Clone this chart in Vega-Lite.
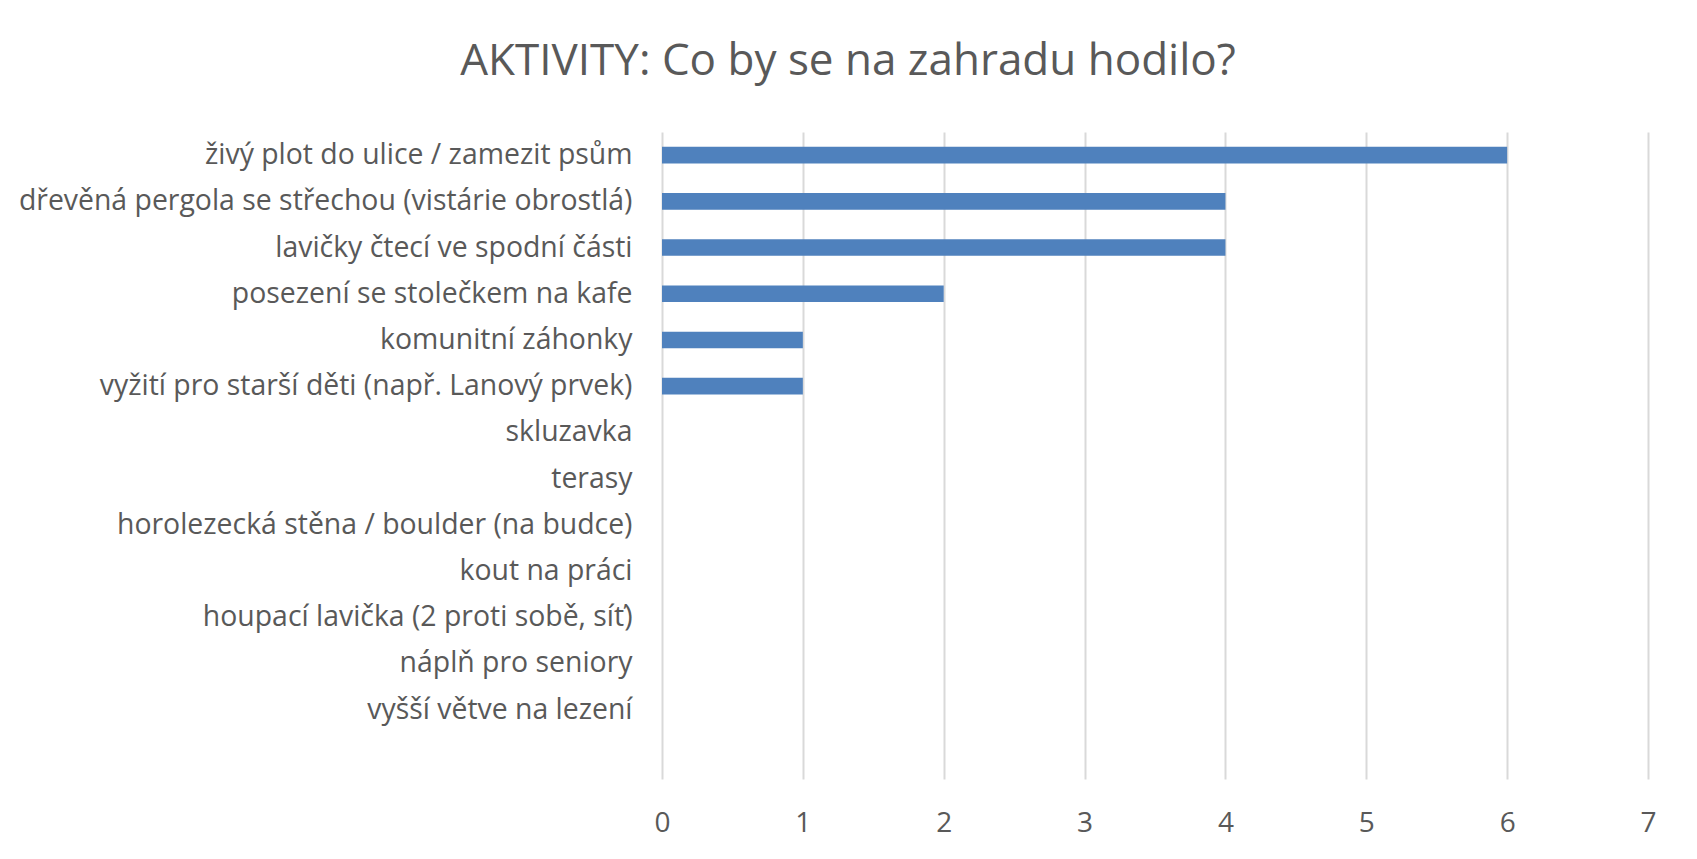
{
  "$schema": "https://vega.github.io/schema/vega-lite/v6.json",
  "autosize": {"type": "none"},
  "width": 986,
  "height": 647,
  "padding": {"left": 662, "top": 132, "right": 49, "bottom": 80},
  "background": "white",
  "title": {
    "text": "AKTIVITY: Co by se na zahradu hodilo?",
    "font": "Open Sans",
    "fontSize": 44,
    "fontWeight": "normal",
    "color": "#595959",
    "anchor": "middle",
    "dx": -307,
    "offset": 48
  },
  "data": {
    "values": [
      {"aktivita": "živý plot do ulice / zamezit psům", "pocet": 6},
      {"aktivita": "dřevěná pergola se střechou (vistárie obrostlá)", "pocet": 4},
      {"aktivita": "lavičky čtecí ve spodní části", "pocet": 4},
      {"aktivita": "posezení se stolečkem na kafe", "pocet": 2},
      {"aktivita": "komunitní záhonky", "pocet": 1},
      {"aktivita": "vyžití pro starší děti (např. Lanový prvek)", "pocet": 1},
      {"aktivita": "skluzavka", "pocet": 0},
      {"aktivita": "terasy", "pocet": 0},
      {"aktivita": "horolezecká stěna / boulder (na budce)", "pocet": 0},
      {"aktivita": "kout na práci", "pocet": 0},
      {"aktivita": "houpací lavička (2 proti sobě, síť)", "pocet": 0},
      {"aktivita": "náplň pro seniory", "pocet": 0},
      {"aktivita": "vyšší větve na lezení", "pocet": 0},
      {"aktivita": " ", "pocet": 0}
    ]
  },
  "mark": {"type": "bar", "color": "#4F81BD"},
  "encoding": {
    "y": {
      "field": "aktivita",
      "type": "nominal",
      "sort": null,
      "scale": {"paddingInner": 0.64, "paddingOuter": 0.32},
      "axis": {
        "title": null,
        "domain": false,
        "ticks": false,
        "labelPadding": 30,
        "labelFont": "Open Sans",
        "labelFontSize": 28.4,
        "labelColor": "#595959",
        "labelLimit": 800
      }
    },
    "x": {
      "field": "pocet",
      "type": "quantitative",
      "scale": {"domain": [0, 7], "nice": false},
      "axis": {
        "title": null,
        "values": [0, 1, 2, 3, 4, 5, 6, 7],
        "domain": false,
        "ticks": false,
        "grid": true,
        "gridColor": "#D9D9D9",
        "gridWidth": 2,
        "labelFlush": false,
        "labelPadding": 30,
        "labelFont": "Open Sans",
        "labelFontSize": 28,
        "labelColor": "#595959"
      }
    }
  },
  "config": {"view": {"stroke": null}}
}
